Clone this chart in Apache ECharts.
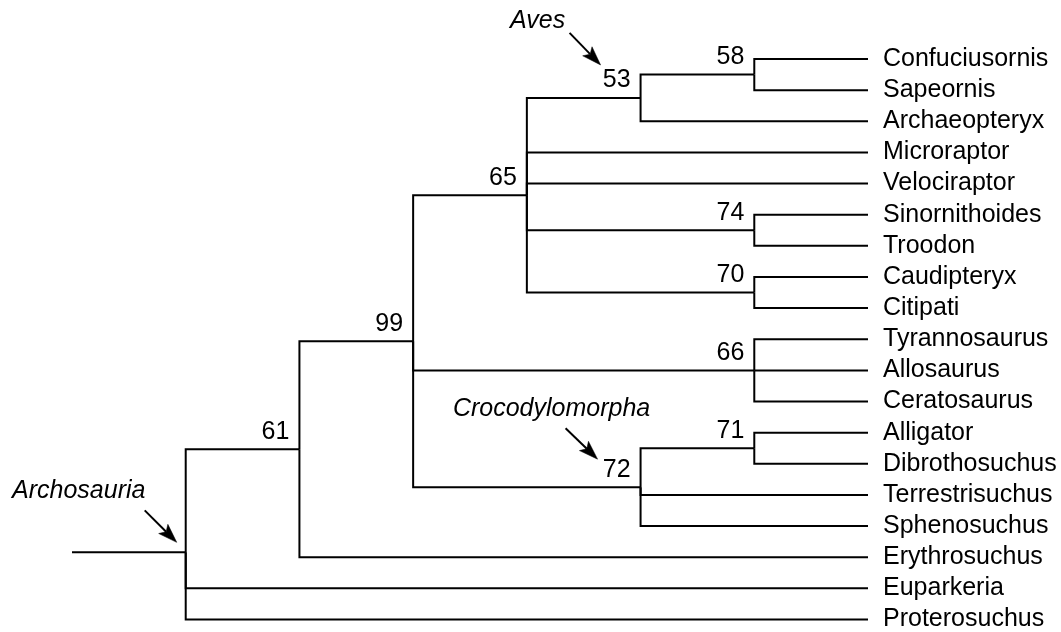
<!DOCTYPE html>
<html>
<head>
<meta charset="utf-8">
<script src="https://cdn.jsdelivr.net/npm/echarts@6/dist/echarts.min.js"></script>
<style>
html,body{margin:0;padding:0;background:#fff;}
#chart{width:1061px;height:632px;}
</style>
</head>
<body>
<div id="chart"></div>
<script>
// ---- data ----
const leaves = ['Confuciusornis','Sapeornis','Archaeopteryx','Microraptor','Velociraptor',
  'Sinornithoides','Troodon','Caudipteryx','Citipati','Tyrannosaurus','Allosaurus',
  'Ceratosaurus','Alligator','Dibrothosuchus','Terrestrisuchus','Sphenosuchus',
  'Erythrosuchus','Euparkeria','Proterosuchus'];
const nodeIds = ['root','n61','n99','n65','n53','n58','n74','n70','n66','n72','n71'];
const nodeSupport = [null,61,99,65,53,58,74,70,66,72,71];
const nodeChildren = [
  ['n61','Euparkeria','Proterosuchus'],
  ['n99','Erythrosuchus'],
  ['n65','n66','n72'],
  ['n53','Microraptor','Velociraptor','n74','n70'],
  ['n58','Archaeopteryx'],
  ['Confuciusornis','Sapeornis'],
  ['Sinornithoides','Troodon'],
  ['Caudipteryx','Citipati'],
  ['Tyrannosaurus','Allosaurus','Ceratosaurus'],
  ['n71','Terrestrisuchus','Sphenosuchus'],
  ['Alligator','Dibrothosuchus']
];
const cladeNames = ['Aves','Crocodylomorpha','Archosauria'];
const cladeNodes = ['n53','n72','root'];

// ---- layout from tree structure ----
const childMap = {};
nodeIds.forEach((id,i)=>{ childMap[id] = nodeChildren[i]; });
const heightOf = id => childMap[id] ? 1 + Math.max(...childMap[id].map(heightOf)) : 0;
const leafLevel = heightOf('root');
const pos = {};
leaves.forEach((n,i)=>{ pos[n] = [leafLevel, i]; });
function place(id){
  if (pos[id]) return pos[id];
  const ch = childMap[id].map(place);
  let y;
  if (id === 'root') y = ch.reduce((s,p)=>s+p[1],0)/ch.length;
  else y = (ch[0][1] + ch[ch.length-1][1]) / 2;
  pos[id] = [leafLevel - heightOf(id), y];
  return pos[id];
}
place('root');

const edges = [];
nodeIds.forEach(id=>{
  const p = pos[id];
  childMap[id].forEach(c=>{
    const q = pos[c];
    edges.push({coords:[[p[0],p[1]],[p[0],q[1]],[q[0],q[1]]]});
  });
});
edges.push({coords:[[-1,pos.root[1]],[0,pos.root[1]]]});

const supportPts = [];
nodeIds.forEach((id,i)=>{ if (nodeSupport[i] != null) supportPts.push([pos[id][0], pos[id][1], nodeSupport[i]]); });

const FONT = "'Liberation Sans', Arial, Helvetica, sans-serif";
const FS = 25;
const chart = echarts.init(document.getElementById('chart'), null, {renderer:'canvas'});
const treeSeries = {type:'lines', coordinateSystem:'cartesian2d', polyline:true, silent:true, clip:false,
     lineStyle:{color:'#000', width:2, opacity:1, join:'miter', cap:'butt'},
     data:edges};
const supportSeries = {type:'scatter', symbolSize:0, silent:true, clip:false, data:supportPts,
     itemStyle:{opacity:1, color:'#000'},
     label:{show:true, position:[-10,-5], align:'right', verticalAlign:'bottom',
       color:'#000', fontSize:FS, fontFamily:FONT, opacity:1, formatter:p=>String(p.value[2])}};
const option = {
  animation:false,
  backgroundColor:'#fff',
  grid:{left:72, right:193, top:59, bottom:11},
  xAxis:{type:'value', min:-1, max:leafLevel, show:false},
  yAxis:{type:'value', min:0, max:leaves.length-1, interval:1, inverse:true, position:'right',
    axisLine:{show:false}, axisTick:{show:false}, splitLine:{show:false},
    axisLabel:{show:true, margin:15, color:'#000', fontSize:FS, fontFamily:FONT,
      formatter:v=>leaves[v] || ''}},
  series:[treeSeries, supportSeries]
};
chart.setOption(option);

// ---- clade annotation arrows (pixel offsets from their node) ----
const annLayout = [
  {tail:[-71,-65], tip:[-40,-33], text:[-103,-77]},
  {tail:[-75,-59], tip:[-43,-28], text:[-89,-78]},
  {tail:[-41,-42], tip:[-9,-10],  text:[-107,-61]}
];
const HEAD_LEN = 19, HEAD_HALF = 6.5, NOTCH = 4;
const arrowData = [];
const gfx = [];
cladeNodes.forEach((id,i)=>{
  const px = chart.convertToPixel({gridIndex:0}, pos[id]);
  const L = annLayout[i];
  const t0 = [px[0]+L.tail[0], px[1]+L.tail[1]];
  const t1 = [px[0]+L.tip[0], px[1]+L.tip[1]];
  const dx = t1[0]-t0[0], dy = t1[1]-t0[1];
  const len = Math.hypot(dx, dy);
  const ux = dx/len, uy = dy/len, nx = -uy, ny = ux;
  const base = [t1[0]-HEAD_LEN*ux, t1[1]-HEAD_LEN*uy];
  const notch = [t1[0]-(HEAD_LEN-NOTCH)*ux, t1[1]-(HEAD_LEN-NOTCH)*uy];
  const a = chart.convertFromPixel({gridIndex:0}, t0);
  const b = chart.convertFromPixel({gridIndex:0}, notch);
  arrowData.push({coords:[a,b]});
  gfx.push({type:'polygon', silent:true, z:10,
    shape:{points:[t1, [base[0]+HEAD_HALF*nx, base[1]+HEAD_HALF*ny], notch, [base[0]-HEAD_HALF*nx, base[1]-HEAD_HALF*ny]]},
    style:{fill:'#000', stroke:'#000', lineWidth:0.5}});
  gfx.push({type:'text', x:px[0]+L.text[0], y:px[1]+L.text[1],
    style:{text:cladeNames[i], font:'italic ' + FS + 'px ' + FONT, fill:'#000', align:'center', verticalAlign:'middle'}});
});
chart.setOption({
  series:[treeSeries, supportSeries,
    {type:'lines', coordinateSystem:'cartesian2d', silent:true, clip:false,
     symbol:['none','none'],
     lineStyle:{color:'#000', width:2, opacity:1},
     data:arrowData}],
  graphic:gfx
});
</script>
</body>
</html>
